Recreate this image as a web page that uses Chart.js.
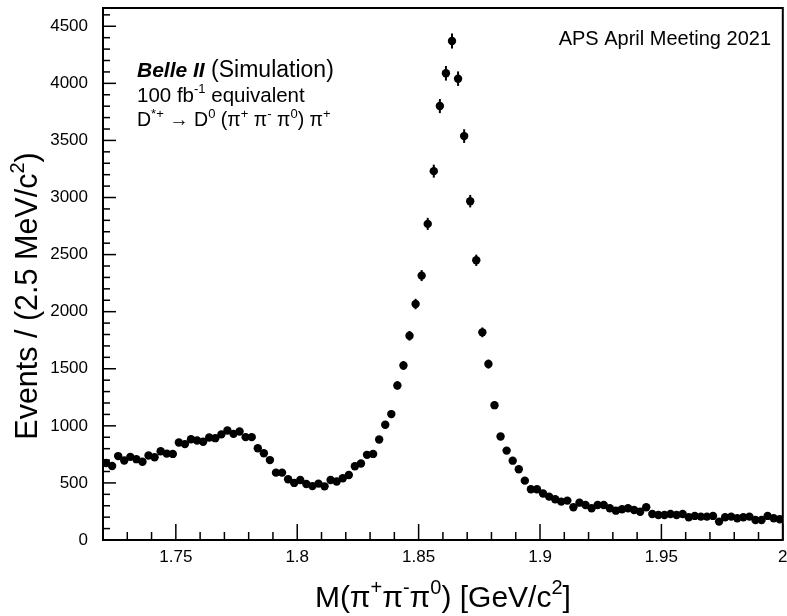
<!DOCTYPE html>
<html><head><meta charset="utf-8">
<script src="https://cdn.jsdelivr.net/npm/chart.js@4/dist/chart.umd.min.js"></script>
<style>html,body{margin:0;padding:0;background:#fff;}canvas{display:block;}</style>
</head><body>
<canvas id="c" width="787" height="616"></canvas>
<script>
// Bin centres of M(pi+ pi- pi0) [GeV/c^2], 2.5 MeV bins from 1.72 to 2.00
const binCenters = [
  1.72125,1.72375,1.72625,1.72875, 1.73125,1.73375,1.73625,1.73875,
  1.74125,1.74375,1.74625,1.74875, 1.75125,1.75375,1.75625,1.75875,
  1.76125,1.76375,1.76625,1.76875, 1.77125,1.77375,1.77625,1.77875,
  1.78125,1.78375,1.78625,1.78875, 1.79125,1.79375,1.79625,1.79875,
  1.80125,1.80375,1.80625,1.80875, 1.81125,1.81375,1.81625,1.81875,
  1.82125,1.82375,1.82625,1.82875, 1.83125,1.83375,1.83625,1.83875,
  1.84125,1.84375,1.84625,1.84875, 1.85125,1.85375,1.85625,1.85875,
  1.86125,1.86375,1.86625,1.86875, 1.87125,1.87375,1.87625,1.87875,
  1.88125,1.88375,1.88625,1.88875, 1.89125,1.89375,1.89625,1.89875,
  1.90125,1.90375,1.90625,1.90875, 1.91125,1.91375,1.91625,1.91875,
  1.92125,1.92375,1.92625,1.92875, 1.93125,1.93375,1.93625,1.93875,
  1.94125,1.94375,1.94625,1.94875, 1.95125,1.95375,1.95625,1.95875,
  1.96125,1.96375,1.96625,1.96875, 1.97125,1.97375,1.97625,1.97875,
  1.98125,1.98375,1.98625,1.98875, 1.99125,1.99375,1.99625,1.99875
];
// Events per bin
const events = [
  675,648,735,696, 728,708,686,740,
  725,778,757,754, 854,840,883,871,
  861,898,892,925, 959,930,950,901,
  901,804,760,700, 590,590,532,500,
  526,491,472,494, 470,526,512,541,
  570,646,670,746, 754,880,1010,1103,
  1354,1529,1789,2067, 2316,2769,3231,3801,
  4088,4371,4041,3538, 2968,2450,1819,1541,
  1181,906,783,695, 620,520,445,445,
  407,380,357,336, 345,287,327,307,
  278,307,307,278, 257,269,278,263,
  248,287,228,219, 219,228,219,228,
  199,211,205,205, 211,161,199,205,
  190,199,205,175, 175,211,190,182
];
const xTickValues = [1.75, 1.8, 1.85, 1.9, 1.95, 2.0];
const xTickLabels = ['1.75', '1.8', '1.85', '1.9', '1.95', '2'];
const yTickValues = [0, 500, 1000, 1500, 2000, 2500, 3000, 3500, 4000, 4500];
const yTickLabels = ['0', '500', '1000', '1500', '2000', '2500', '3000', '3500', '4000', '4500'];
const xRange = [1.72, 2.0];
const yRange = [0, 4660];
const xMinorStep = 0.01;
const yMinorStep = 100;

const FONT = '"Liberation Sans", Arial, Helvetica, sans-serif';

function drawRich(ctx, parts, x, y, size, align) {
  const fontFor = (p) => {
    const s = p[2] || size;
    if (p[1] === 'bi') return 'italic bold ' + s + 'px ' + FONT;
    if (p[1] === 'sup') return Math.round(s * 0.65) + 'px ' + FONT;
    return s + 'px ' + FONT;
  };
  let total = 0;
  parts.forEach(p => { ctx.font = fontFor(p); total += ctx.measureText(p[0]).width; });
  let cx = x;
  if (align === 'right') cx = x - total;
  else if (align === 'center') cx = x - total / 2;
  ctx.textBaseline = 'alphabetic';
  ctx.textAlign = 'left';
  parts.forEach(p => {
    ctx.font = fontFor(p);
    const dy = p[1] === 'sup' ? -size * 0.42 : 0;
    ctx.fillText(p[0], cx, y + dy);
    cx += ctx.measureText(p[0]).width;
  });
}

const framePlugin = {
  id: 'rootFrame',
  beforeDatasetsDraw(chart) {
    const { ctx, chartArea: a, scales: { x, y } } = chart;
    ctx.save();
    ctx.strokeStyle = '#000';
    ctx.lineWidth = 1.5;
    for (let k = 0; ; k++) {
      const v = xRange[0] + k * xMinorStep;
      if (v > xRange[1] + 1e-9) break;
      const major = Math.abs(v / 0.05 - Math.round(v / 0.05)) < 1e-6;
      const px = x.getPixelForValue(v);
      ctx.beginPath();
      ctx.moveTo(px, a.bottom);
      ctx.lineTo(px, a.bottom - (major ? 16 : 8));
      ctx.stroke();
    }
    for (let k = 0; ; k++) {
      const v = yRange[0] + k * yMinorStep;
      if (v > yRange[1]) break;
      const major = v % 500 === 0;
      const py = y.getPixelForValue(v);
      ctx.beginPath();
      ctx.moveTo(a.left, py);
      ctx.lineTo(a.left + (major ? 13 : 7), py);
      ctx.stroke();
    }
    ctx.lineWidth = 2;
    const meta = chart.getDatasetMeta(0);
    meta.data.forEach((pt, i) => {
      const v = events[i];
      const e = Math.sqrt(v);
      ctx.beginPath();
      ctx.moveTo(pt.x, y.getPixelForValue(v + e));
      ctx.lineTo(pt.x, y.getPixelForValue(v - e));
      ctx.stroke();
    });
    ctx.restore();
  },
  afterDraw(chart) {
    const { ctx, chartArea: a } = chart;
    ctx.save();
    ctx.strokeStyle = '#000';
    ctx.lineWidth = 2;
    ctx.strokeRect(a.left, a.top, a.right - a.left, a.bottom - a.top);
    ctx.fillStyle = '#000';
    drawRich(ctx, [['Belle II', 'bi', 21], [' (Simulation)', 'n', 23]], 137, 77, 22, 'left');
    drawRich(ctx, [['100 fb', 'n'], ['-1', 'sup'], [' equivalent', 'n']], 137, 102, 20.5, 'left');
    drawRich(ctx, [['D', 'n'], ['*+', 'sup'], [' \u2192 D', 'n'], ['0', 'sup'], [' (\u03c0', 'n'], ['+', 'sup'],
      [' \u03c0', 'n'], ['-', 'sup'], [' \u03c0', 'n'], ['0', 'sup'], [') \u03c0', 'n'], ['+', 'sup']], 137, 126, 19.5, 'left');
    drawRich(ctx, [['APS April Meeting 2021', 'n']], 771, 45, 20, 'right');
    drawRich(ctx, [['M(\u03c0', 'n'], ['+', 'sup'], ['\u03c0', 'n'], ['-', 'sup'], ['\u03c0', 'n'], ['0', 'sup'],
      [') [GeV/c', 'n'], ['2', 'sup'], [']', 'n']], (a.left + a.right) / 2, 607, 30, 'center');
    ctx.save();
    ctx.translate(37, 296);
    ctx.rotate(-Math.PI / 2);
    drawRich(ctx, [['Events / (2.5 MeV/c', 'n'], ['2', 'sup'], [')', 'n']], 0, 0, 30.5, 'center');
    ctx.restore();
    ctx.restore();
  }
};

new Chart(document.getElementById('c'), {
  type: 'scatter',
  data: {
    datasets: [{
      data: binCenters.map((m, i) => ({ x: m, y: events[i] })),
      showLine: false,
      pointRadius: 4.2,
      pointHoverRadius: 4.2,
      pointBackgroundColor: '#000',
      pointBorderColor: '#000',
      pointBorderWidth: 0
    }]
  },
  options: {
    responsive: false,
    animation: false,
    devicePixelRatio: 1,
    layout: { padding: { left: 0, top: 8, right: 4, bottom: 0 } },
    plugins: { legend: { display: false }, tooltip: { enabled: false } },
    scales: {
      x: {
        type: 'linear', min: xRange[0], max: xRange[1],
        grid: { display: false, drawTicks: false },
        border: { display: false },
        afterBuildTicks: s => { s.ticks = xTickValues.map(v => ({ value: v })); },
        afterFit: s => { s.height = 76; s.paddingLeft = 0; s.paddingRight = 0; },
        ticks: {
          padding: 7, color: '#000', maxRotation: 0, autoSkip: false,
          font: { family: FONT, size: 17 },
          callback: (v) => { const i = xTickValues.findIndex(t => Math.abs(t - v) < 1e-9); return i >= 0 ? xTickLabels[i] : ''; }
        }
      },
      y: {
        type: 'linear', min: yRange[0], max: yRange[1],
        grid: { display: false, drawTicks: false },
        border: { display: false },
        afterBuildTicks: s => { s.ticks = yTickValues.map(v => ({ value: v })); },
        afterFit: s => { s.width = 103; s.paddingTop = 0; s.paddingBottom = 0; },
        ticks: {
          padding: 15, color: '#000', autoSkip: false,
          font: { family: FONT, size: 17 },
          callback: (v) => { const i = yTickValues.indexOf(v); return i >= 0 ? yTickLabels[i] : ''; }
        }
      }
    }
  },
  plugins: [framePlugin]
});
</script>
</body></html>
